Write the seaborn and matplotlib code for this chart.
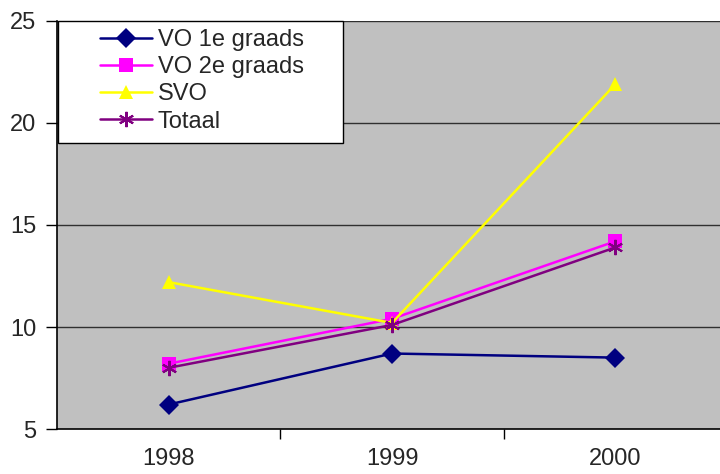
import matplotlib
matplotlib.use("Agg")
import matplotlib.pyplot as plt
import seaborn as sns
import pandas as pd
from matplotlib.ticker import FixedLocator
from matplotlib.patches import Rectangle

years = ["1998", "1999", "2000"]
vo1 = [6.2, 8.7, 8.5]
vo2 = [8.2, 10.4, 14.2]
svo = [12.2, 10.2, 21.9]
totaal = [8.0, 10.1, 13.9]
series_names = ["VO 1e graads", "VO 2e graads", "SVO", "Totaal"]
yticks = [5, 10, 15, 20, 25]

colors = ["#000080", "#FF00FF", "#FFFF00", "#800080"]
marker_list = ["D", "s", "^", (6, 2, 0)]

sns.set_theme(style="white")
plt.rcParams["font.family"] = ["Liberation Sans", "DejaVu Sans"]

W, H = 720, 474
L, R, B, T = 57, 727, 429, 21
fig = plt.figure(figsize=(7.2, 4.74), dpi=100)
ax = fig.add_axes([L/W, (H-B)/H, (R-L)/W, (B-T)/H])
ax.set_facecolor("#C0C0C0")

for y in [10, 15, 20, 25]:
    ax.axhline(y, color="#303030", linewidth=1, zorder=1)

for name, vals, col, mk in zip(series_names, [vo1, vo2, svo, totaal], colors, marker_list):
    d = pd.DataFrame({"Jaar": years, "Waarde": vals})
    filled = mk in ("D", "s", "^")
    sns.lineplot(data=d, x="Jaar", y="Waarde", color=col, marker=mk,
                 markersize=10 if filled else 11,
                 markeredgewidth=0 if filled else 1.5,
                 markeredgecolor=col, linewidth=1.8, label=name,
                 ax=ax, sort=False, zorder=3)

ax.set_xlim(-0.5, 2.5)
ax.set_ylim(5, 25)
ax.set_yticks(yticks)
ax.set_yticklabels([str(t) for t in yticks], fontsize=17)
ax.xaxis.set_major_locator(FixedLocator([0, 1, 2]))
ax.set_xticklabels(years, fontsize=17)
ax.xaxis.set_minor_locator(FixedLocator([0.5, 1.5]))
ax.tick_params(axis="x", which="major", length=0, pad=14)
ax.tick_params(axis="x", which="minor", length=7, width=1, color="black", direction="out", bottom=True)
ax.tick_params(axis="y", which="major", length=8, width=1, color="black", direction="out", pad=7, left=True)
ax.set_xlabel("")
ax.set_ylabel("")
for s in ["top", "right"]:
    ax.spines[s].set_visible(False)
for s in ["left", "bottom"]:
    ax.spines[s].set_color("black")
    ax.spines[s].set_linewidth(1.2)

def ax_x(px):
    return (px - L) / (R - L)

def ax_y(py):
    return (B - py) / (B - T)

frame = Rectangle((ax_x(58), ax_y(143)), ax_x(343) - ax_x(58), ax_y(21) - ax_y(143),
                  transform=ax.transAxes, facecolor="white", edgecolor="black",
                  linewidth=1, zorder=4, clip_on=False)
ax.add_patch(frame)

leg = ax.legend(loc="upper left", bbox_to_anchor=(ax_x(100), ax_y(29)),
                borderaxespad=0, frameon=False, fontsize=17,
                handlelength=2.2, handletextpad=0.25, labelspacing=0.22,
                borderpad=0)
leg.set_zorder(5)

fig.savefig("out.png", dpi=100)
